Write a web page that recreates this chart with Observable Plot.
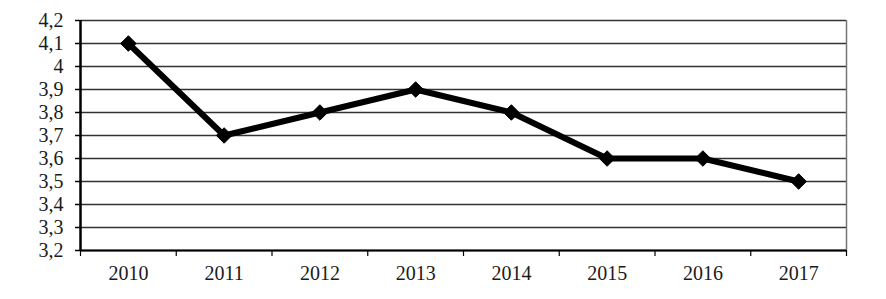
<!DOCTYPE html>
<html>
<head>
<meta charset="utf-8">
<script src="https://cdn.jsdelivr.net/npm/d3@7"></script>
<script src="https://cdn.jsdelivr.net/npm/@observablehq/plot@0.6"></script>
<style>
html,body{margin:0;padding:0;background:#fff;}
svg{font-family:"Liberation Serif","Times New Roman",serif !important;}
svg text{font-size:20px !important;font-family:"Liberation Serif","Times New Roman",serif !important;fill:#1a1a1a;}
</style>
</head>
<body>
<div id="chart"></div>
<script>
const years = [2010, 2011, 2012, 2013, 2014, 2015, 2016, 2017];
const values = [4.1, 3.7, 3.8, 3.9, 3.8, 3.6, 3.6, 3.5];
const yTicks = [3.2, 3.3, 3.4, 3.5, 3.6, 3.7, 3.8, 3.9, 4.0, 4.1, 4.2];
const yTickLabels = ["3,2","3,3","3,4","3,5","3,6","3,7","3,8","3,9","4","4,1","4,2"];

const data = years.map((y, i) => ({year: y, value: values[i]}));
const boundaries = years.map(y => y - 0.5).concat([years[years.length - 1] + 0.5]);

const chart = Plot.plot({
  width: 886,
  height: 299,
  marginLeft: 80,
  marginRight: 40,
  marginTop: 20,
  marginBottom: 49,
  style: {fontSize: "20px", fontFamily: "Liberation Serif, serif", color: "#000", background: "#fff"},
  x: {type: "linear", domain: [boundaries[0], boundaries[boundaries.length - 1]]},
  y: {domain: [3.2, 4.2]},
  marks: [
    Plot.ruleY(yTicks, {stroke: "#333", strokeWidth: 1.5}),
    Plot.ruleX([boundaries[boundaries.length - 1]], {stroke: "#777", strokeWidth: 1.5}),
    Plot.axisY({ticks: yTicks, tickFormat: d => yTickLabels[yTicks.findIndex(t => Math.abs(t - d) < 1e-9)], tickSize: 5, tickPadding: 12, stroke: "#000", strokeWidth: 1.5, label: null}),
    Plot.axisX({ticks: boundaries, tickFormat: () => "", tickSize: 6, stroke: "#000", strokeWidth: 1.2, label: null}),
    Plot.axisX({ticks: years, tickFormat: d => String(d), tickSize: 0, tickPadding: 15, label: null}),
    Plot.ruleX([boundaries[0]], {stroke: "#000", strokeWidth: 2.5}),
    Plot.ruleY([3.2], {stroke: "#000", strokeWidth: 2}),
    Plot.line(data, {x: "year", y: "value", stroke: "#000", strokeWidth: 6, strokeLinejoin: "miter"}),
    Plot.dot(data, {x: "year", y: "value", symbol: "diamond2", r: 7, fill: "#000", stroke: "#000", strokeWidth: 1})
  ]
});
document.getElementById("chart").appendChild(chart);
</script>
</body>
</html>
